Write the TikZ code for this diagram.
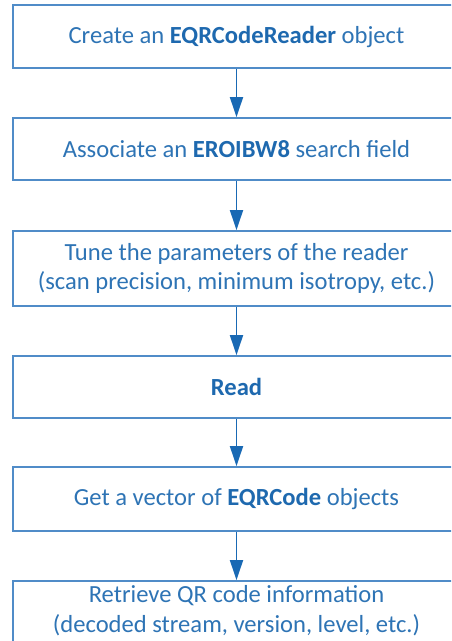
\documentclass[tikz,border=0pt]{standalone}
\usepackage{fontspec}
\setmainfont{Carlito}
\usetikzlibrary{arrows.meta}
\definecolor{txtblue}{RGB}{46,116,181}
\definecolor{boldblue}{RGB}{30,105,175}
\definecolor{edgeblue}{RGB}{80,140,200}
\definecolor{arrblue}{RGB}{25,105,180}
\tikzset{
  stepbox/.style={draw=edgeblue, line width=1.8pt, fill=white, rectangle,
    minimum width=447pt, inner sep=0pt, align=center, text=txtblue,
    font=\fontsize{24.6}{29.5}\selectfont},
  flowarrow/.style={draw=arrblue, line width=1.8pt,
    -{Triangle[length=20pt,width=13pt]}, shorten >=0pt}
}
\newcommand{\bb}[1]{\textbf{\color{boldblue}#1}}
\begin{document}
\begin{tikzpicture}[x=1pt,y=-1pt]
\useasboundingbox (0,0) rectangle (451,641);
\clip (0,0) rectangle (451,641);
\node[stepbox, minimum height=63pt] (b1) at (236.5,36.5) {Create an \bb{EQRCodeReader} object};
\node[stepbox, minimum height=62pt] (b2) at (236.5,149) {Associate an \bb{EROIBW8} search field};
\node[stepbox, minimum height=75pt] (b3) at (236.5,268.5) {Tune the parameters of the reader\\(scan precision, minimum isotropy, etc.)};
\node[stepbox, minimum height=62pt] (b4) at (236.5,387) {\bb{Read}};
\node[stepbox, minimum height=64pt] (b5) at (236.5,499) {Get a vector of \bb{EQRCode} objects};
\node[stepbox, minimum height=80pt] (b6) at (236.5,621) {};
\node[text=txtblue, font=\fontsize{24.6}{29.5}\selectfont, align=center, anchor=north] (t6) at (236.5,582) {Retrieve QR code information\\(decoded stream, version, level, etc.)};
\draw[flowarrow] (b1.south) -- (b2.north);
\draw[flowarrow] (b2.south) -- (b3.north);
\draw[flowarrow] (b3.south) -- (b4.north);
\draw[flowarrow] (b4.south) -- (b5.north);
\draw[flowarrow] (b5.south) -- (b6.north);
\end{tikzpicture}
\end{document}
